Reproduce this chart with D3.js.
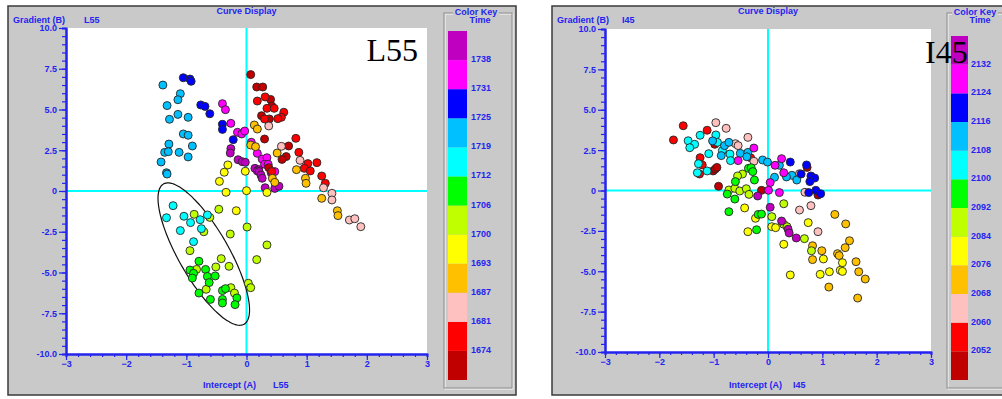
<!DOCTYPE html>
<html>
<head>
<meta charset="utf-8">
<script src="https://cdn.jsdelivr.net/npm/d3@7"></script>
<style>
  body { margin: 0; background: #fff; }
  svg text { font-family: "Liberation Sans", Arial, sans-serif; font-weight: bold; }
</style>
</head>
<body>
<svg id="chart" width="1002" height="399"></svg>
<script>
// colour bands of the key, bottom (0) to top (11)
var bandColors = ["#c00000", "#ff0000", "#ffc0c0", "#ffc000", "#ffff00", "#c0ff00",
                  "#00ff00", "#00ffff", "#00c0ff", "#0000ff", "#ff00ff", "#c000c0"];

// key labels sit on band boundaries, bottom to top
var l55Times = [1674, 1681, 1687, 1693, 1700, 1706, 1712, 1719, 1725, 1731, 1738];
var i45Times = [2052, 2060, 2068, 2076, 2084, 2092, 2100, 2108, 2116, 2124, 2132];

var yTickValues = [-10, -7.5, -5, -2.5, 0, 2.5, 5, 7.5, 10];
var xTickValues = [-3, -2, -1, 0, 1, 2, 3];

// [intercept A, gradient B, colour band]
var l55Points = [
  [-1.39,6.50,8],[-1.10,5.97,8],[-1.14,5.60,8],[-1.32,5.24,8],[-1.14,4.70,8],[-1.28,4.40,8],
  [-0.97,4.52,8],[-1.05,3.50,8],[-0.97,3.42,8],[-1.29,2.88,8],[-0.90,2.76,8],[-1.36,2.37,8],
  [-1.30,2.41,8],[-1.12,2.37,8],[-0.97,2.09,8],[-1.42,1.78,8],[-1.33,1.12,8],[-1.32,1.04,8],
  [-1.05,6.95,9],[-0.94,6.87,9],[-0.92,6.73,9],[-0.76,5.28,9],[-0.69,5.19,9],[-0.61,4.74,9],
  [-0.40,4.09,9],[-0.40,3.78,9],[-0.22,3.15,9],
  [-0.40,5.36,10],[-0.35,4.99,10],[-0.26,4.15,10],[-0.15,3.60,10],[-0.08,3.50,10],[-0.03,3.68,10],
  [0.08,2.99,10],[0.18,2.31,10],[0.26,1.96,10],[0.34,2.04,10],[0.30,1.64,10],[0.36,1.64,10],
  [0.41,1.12,10],[0.47,1.19,10],
  [-0.26,2.60,11],[-0.27,2.33,11],[-0.14,1.92,11],[-0.07,1.80,11],[-0.02,1.76,11],[0.14,1.39,11],
  [0.20,1.32,11],[0.18,1.23,11],[0.21,1.19,11],[0.24,0.98,11],[0.26,0.78,11],[0.31,0.20,11],
  [0.47,0.16,11],[0.54,0.29,11],
  [0.07,7.14,0],[0.17,6.38,0],[0.27,6.38,0],[0.40,5.62,0],[0.42,5.21,0],[0.25,4.62,0],
  [0.38,4.42,0],[0.30,3.19,0],[0.70,2.76,0],[0.66,2.11,0],[0.59,1.94,0],[0.37,1.43,0],
  [0.18,5.52,1],[0.31,5.77,1],[0.34,5.07,1],[0.46,5.07,1],[0.62,4.83,1],[0.58,4.52,1],
  [0.30,4.42,1],[0.52,4.44,1],[0.82,3.23,1],[0.87,2.37,1],[1.02,1.68,1],[1.17,1.74,1],
  [0.96,1.39,1],[1.06,1.23,1],[1.25,0.92,1],[1.31,0.47,1],[0.42,1.19,1],
  [0.37,3.99,2],[0.58,2.74,2],[0.89,1.88,2],[1.28,0.20,2],[1.42,-0.14,2],[1.42,-0.55,2],
  [1.71,-1.78,2],[1.80,-1.70,2],[1.90,-2.19,2],
  [0.13,4.05,3],[0.18,3.80,3],[0.07,2.82,3],[0.15,2.72,3],[0.51,2.33,3],[0.83,1.31,3],
  [0.98,0.78,3],[0.99,0.47,3],[0.43,0.78,3],[0.47,0.53,3],[1.25,-0.45,3],[1.51,-1.21,3],
  [1.52,-1.51,3],
  [-0.31,1.60,4],[-0.37,1.15,4],[-0.45,0.59,4],[-0.02,1.21,4],[-0.34,-0.08,4],[0.00,0.02,4],
  [0.34,-0.09,4],[-0.17,-1.21,4],
  [-0.87,-1.43,5],[-0.61,-1.62,5],[-0.46,-1.12,5],[-0.71,-2.50,5],[-0.94,-3.66,5],[-0.27,-2.64,5],
  [0.01,-2.21,5],[0.34,-3.31,5],[0.17,-4.21,5],[-0.42,-4.15,5],[-0.51,-4.66,5],[-0.29,-4.62,5],
  [-0.83,-4.81,5],[-0.67,-6.03,5],[-0.26,-5.93,5],[-0.20,-6.26,5],[0.03,-5.66,5],[0.07,-5.93,5],
  [-0.79,-4.31,6],[-0.94,-4.85,6],[-0.88,-5.05,6],[-0.90,-5.34,6],[-0.68,-4.81,6],[-0.65,-5.24,6],
  [-0.52,-5.21,6],[-0.62,-5.62,6],[-0.79,-6.26,6],[-0.60,-6.65,6],[-0.40,-6.11,6],[-0.35,-5.99,6],
  [-0.40,-6.65,6],[-0.40,-6.87,6],[-0.16,-6.56,6],[-0.19,-6.97,6],
  [-1.22,-0.90,7],[-1.33,-1.64,7],[-1.04,-1.55,7],[-0.93,-1.94,7],[-0.77,-1.76,7],[-0.65,-1.47,7],
  [-0.75,-2.31,7],[-1.10,-2.43,7],[-0.88,-3.11,7]
];

var i45Points = [
  [-0.98,2.86,0],[-1.01,1.21,0],[-0.97,1.33,0],[-0.94,1.43,0],[-0.91,0.26,0],[-0.12,0.01,0],
  [0.72,1.43,0],[0.92,-0.28,0],
  [-1.56,4.01,1],[-1.12,3.73,1],[-1.74,3.13,1],[-1.25,2.03,1],[-1.21,1.58,1],[-1.26,1.02,1],
  [-0.32,2.03,1],
  [-0.96,4.20,2],[-0.77,3.85,2],[-0.37,3.29,2],[-0.60,2.90,2],[-0.55,2.78,2],[-0.26,1.81,2],
  [0.58,1.04,2],[0.68,-0.11,2],[0.79,-0.94,2],[0.58,-1.21,2],[0.92,-2.55,2],
  [1.23,-1.48,3],[1.43,-2.07,3],[1.50,-3.11,3],[0.82,-3.42,3],[0.99,-3.73,3],[1.42,-3.54,3],
  [1.28,-3.91,3],[1.31,-4.03,3],[0.82,-4.28,3],[1.62,-4.41,3],[1.67,-5.03,3],[1.79,-5.48,3],
  [1.12,-5.98,3],[1.65,-6.66,3],
  [-0.43,-1.08,4],[-0.23,-1.72,4],[-0.37,-2.55,4],[0.07,-2.24,4],[0.14,-2.30,4],[0.74,-1.99,4],
  [0.29,-3.33,4],[1.02,-4.24,4],[1.37,-4.47,4],[1.33,-4.94,4],[1.37,-5.01,4],[1.13,-5.03,4],
  [0.96,-5.19,4],[0.41,-5.23,4],
  [-0.47,1.02,5],[-0.56,0.90,5],[-0.72,0.03,5],[-0.61,0.13,5],[-0.52,-0.03,5],[-0.40,0.11,5],
  [-0.35,-0.24,5],[0.29,-0.82,5],[0.07,-1.62,5],[0.29,-2.09,5],[0.35,-2.24,5],[0.67,-2.98,5],
  [0.80,-3.73,5],
  [-0.36,1.37,6],[-0.31,1.41,6],[-0.28,1.17,6],[-0.25,0.65,6],[-0.60,0.55,6],[-0.75,-0.22,6],
  [-0.61,-0.53,6],[-0.72,-1.31,6],[-0.18,-1.48,6],[-0.12,-1.46,6],[-0.21,-2.43,6],
  [-1.25,3.42,7],[-0.96,3.44,7],[-1.47,3.08,7],[-0.93,2.98,7],[-1.35,2.86,7],[-1.44,2.65,7],
  [-0.84,2.47,7],[-1.09,2.28,7],[-0.70,2.26,7],[-0.69,1.85,7],[-1.28,1.66,7],[-1.30,1.10,7],
  [-1.12,1.21,7],
  [-1.02,3.07,8],[-0.80,2.78,8],[-0.72,2.98,8],[-0.86,2.16,8],[-0.51,2.30,8],[-0.37,2.36,8],
  [-0.39,2.09,8],[-0.10,1.89,8],[-0.01,1.76,8],[0.21,1.56,8],[0.44,0.94,8],[0.34,0.84,8],
  [0.53,0.65,8],[0.12,0.82,8],
  [0.41,1.76,9],[0.71,1.58,9],[0.61,1.02,9],[0.79,0.90,9],[0.86,0.77,9],[0.77,0.55,9],
  [0.75,-0.13,9],[0.88,0.01,9],[0.97,-0.20,9],
  [-0.26,2.63,10],[-0.55,1.85,10],[0.25,1.97,10],[0.13,1.56,10],[0.29,1.10,10],[0.04,0.49,10],
  [0.01,0.01,10],[0.21,-0.13,10],
  [-0.19,-0.34,11],[0.04,-1.04,11],[0.25,-1.89,11],[0.37,-2.40,11],[0.39,-2.63,11],[0.52,-2.94,11]
];

// hand drawn ring round the low cluster of L55: centre plus two semi-axis vectors (data units)
var l55Ellipse = { cx: -0.71, cy: -3.87, ux: 0.67, uy: -4.30, vx: -0.36, vy: -0.77 };

var blue = "#2424f0";
var svg = d3.select("#chart");

drawPanel({
  name: "L55", box: [8, 516], plot: { l: 66, r: 427, t: 28, b: 354 },
  key: { l: 444, r: 512, barL: 448, barW: 19, t: 31, b: 380, textX: 471, titleX: 476, timeX: 480 },
  points: l55Points, times: l55Times, ellipse: l55Ellipse,
  big: { x: 418, y: 61, anchor: "end" },
  gradX: 13, gradNameX: 84, intX: 203, intNameX: 273
});

drawPanel({
  name: "I45", box: [552, 1012], plot: { l: 605, r: 931, t: 29, b: 352 },
  key: { l: 947, r: 1012, barL: 951, barW: 17, t: 36, b: 380, textX: 971, titleX: 975, timeX: 980 },
  points: i45Points, times: i45Times, ellipse: null,
  big: { x: 925, y: 63, anchor: "start" },
  gradX: 557, gradNameX: 622, intX: 729, intNameX: 793
});

function drawPanel(cfg) {
  var g = svg.append("g");
  var p = cfg.plot;

  g.append("rect")
    .attr("x", cfg.box[0]).attr("y", 6)
    .attr("width", cfg.box[1] - cfg.box[0]).attr("height", 389)
    .attr("fill", "#c9c9c9")
    .attr("stroke", "#3a3a3a")
    .attr("stroke-width", 1.5);

  var x = d3.scaleLinear().domain([-3, 3]).range([p.l, p.r]);
  var y = d3.scaleLinear().domain([-10, 10]).range([p.b, p.t]);

  g.append("rect")
    .attr("x", p.l).attr("y", p.t)
    .attr("width", p.r - p.l).attr("height", p.b - p.t)
    .attr("fill", "#fff");

  // zero cross
  g.append("line")
    .attr("x1", x(0)).attr("x2", x(0)).attr("y1", y(10)).attr("y2", y(-10))
    .attr("stroke", "#00ffff").attr("stroke-width", 2);
  g.append("line")
    .attr("x1", x(-3)).attr("x2", x(3)).attr("y1", y(0)).attr("y2", y(0))
    .attr("stroke", "#00ffff").attr("stroke-width", 2);

  if (cfg.ellipse) {
    var e = cfg.ellipse;
    var ring = d3.range(0, 2 * Math.PI, Math.PI / 60).map(function (t) {
      return [x(e.cx + e.ux * Math.cos(t) + e.vx * Math.sin(t)),
              y(e.cy + e.uy * Math.cos(t) + e.vy * Math.sin(t))];
    });
    g.append("path")
      .attr("d", d3.line().curve(d3.curveCardinalClosed)(ring))
      .attr("fill", "none")
      .attr("stroke", "#111")
      .attr("stroke-width", 1.2);
  }

  g.append("g").selectAll("circle")
    .data(cfg.points)
    .enter()
    .append("circle")
    .attr("cx", function (d) { return x(d[0]); })
    .attr("cy", function (d) { return y(d[1]); })
    .attr("r", 4)
    .attr("fill", function (d) { return bandColors[d[2]]; })
    .attr("stroke", "#262626")
    .attr("stroke-width", 0.9);

  // axes: major ticks with labels, plus minor ticks
  var yAxis = g.append("g")
    .attr("transform", "translate(" + p.l + ",0)")
    .call(d3.axisLeft(y).tickValues(yTickValues).tickSize(7).tickSizeOuter(0)
      .tickFormat(function (d) { return d === 0 ? "0" : d.toFixed(1); }));
  var yMinor = g.append("g")
    .attr("transform", "translate(" + p.l + ",0)")
    .call(d3.axisLeft(y).tickValues(d3.range(-10, 10.01, 0.5)).tickSize(4).tickFormat(""));
  var xAxis = g.append("g")
    .attr("transform", "translate(0," + p.b + ")")
    .call(d3.axisBottom(x).tickValues(xTickValues).tickSize(6).tickSizeOuter(0)
      .tickFormat(d3.format("d")));
  var xMinor = g.append("g")
    .attr("transform", "translate(0," + p.b + ")")
    .call(d3.axisBottom(x).tickValues(d3.range(-3, 3.01, 0.2)).tickSize(3).tickFormat(""));

  [yAxis, yMinor, xAxis, xMinor].forEach(function (a) {
    a.select(".domain").attr("stroke", blue).attr("stroke-width", 2);
    a.selectAll(".tick line").attr("stroke", blue).attr("stroke-width", 1.2);
    a.selectAll(".tick text")
      .attr("fill", blue)
      .style("font-size", "9px")
      .style("font-family", "\"Liberation Sans\", Arial, sans-serif")
      .style("font-weight", "bold");
  });
  yAxis.selectAll(".tick text").attr("x", -9);
  xAxis.selectAll(".tick text").attr("y", 7);

  // titles
  label(g, (p.l + p.r) / 2, 14, "Curve Display", "middle");
  label(g, cfg.gradX, 23, "Gradient  (B)", "start");
  label(g, cfg.gradNameX, 23, cfg.name, "start");
  label(g, cfg.intX, 388, "Intercept  (A)", "start");
  label(g, cfg.intNameX, 388, cfg.name, "start");

  // colour key
  var k = cfg.key;
  g.append("rect")
    .attr("x", k.l + 1).attr("y", 14)
    .attr("width", k.r - k.l).attr("height", 375)
    .attr("fill", "none").attr("stroke", "#fafafa");
  g.append("rect")
    .attr("x", k.l).attr("y", 13)
    .attr("width", k.r - k.l).attr("height", 375)
    .attr("fill", "none").attr("stroke", "#8c8c8c");
  g.append("rect")
    .attr("x", k.titleX - 23).attr("y", 7)
    .attr("width", 46).attr("height", 10)
    .attr("fill", "#c9c9c9");
  label(g, k.titleX, 15, "Color Key", "middle");
  label(g, k.timeX, 23, "Time", "middle");

  var ky = d3.scaleLinear().domain([0, bandColors.length]).range([k.b, k.t]);
  g.append("g").selectAll("rect")
    .data(bandColors)
    .enter()
    .append("rect")
    .attr("x", k.barL)
    .attr("y", function (d, i) { return ky(i + 1); })
    .attr("width", k.barW)
    .attr("height", function (d, i) { return ky(i) - ky(i + 1); })
    .attr("fill", function (d) { return d; });

  g.append("g").selectAll("text")
    .data(cfg.times)
    .enter()
    .append("text")
    .attr("x", k.textX)
    .attr("y", function (d, i) { return ky(i + 1) + 2; })
    .attr("fill", blue)
    .style("font-size", "9px")
    .text(function (d) { return d; });

  g.append("text")
    .attr("x", cfg.big.x).attr("y", cfg.big.y)
    .attr("text-anchor", cfg.big.anchor)
    .attr("fill", "#000")
    .style("font-family", "\"Liberation Serif\", \"Times New Roman\", serif")
    .style("font-weight", "normal")
    .style("font-size", "32px")
    .text(cfg.name);
}

function label(g, lx, ly, txt, anchor) {
  g.append("text")
    .attr("x", lx).attr("y", ly)
    .attr("text-anchor", anchor)
    .attr("fill", blue)
    .style("font-size", "9px")
    .text(txt);
}
</script>
</body>
</html>
